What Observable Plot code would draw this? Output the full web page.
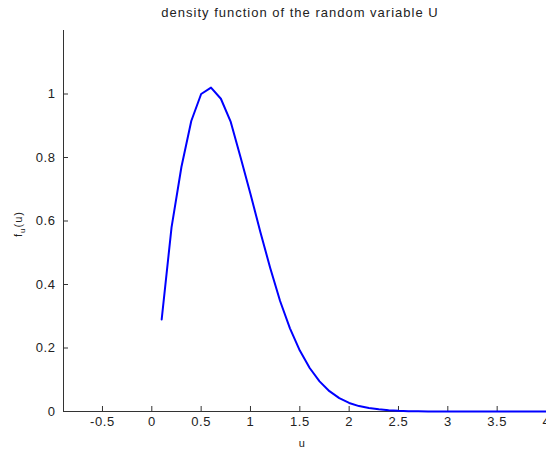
<!DOCTYPE html>
<html><head><meta charset="utf-8">
<script src="https://cdn.jsdelivr.net/npm/d3@7"></script>
<script src="https://cdn.jsdelivr.net/npm/@observablehq/plot@0.6"></script>
<style>body{margin:0;background:#fff} svg{display:block}</style>
</head><body><div id="chart"></div>
<script>
// ---- data ----
const u  = [0.1,0.2,0.3,0.4,0.5,0.6,0.7,0.8,0.9,1.0,
            1.1,1.2,1.3,1.4,1.5,1.6,1.7,1.8,1.9,2.0,
            2.1,2.2,2.3,2.4,2.5,2.6,2.7,2.8,2.9,3.0,
            3.1,3.2,3.3,3.4,3.5,3.6,3.7,3.8,3.9,4.0];
const fu = [0.29,0.58,0.77,0.915,1.0,1.02,0.985,0.912,0.80,0.685,
            0.565,0.452,0.348,0.262,0.192,0.137,0.095,0.064,0.042,0.027,
            0.017,0.011,0.007,0.004,0.002,0.001,0.0005,0,0,0,
            0,0,0,0,0,0,0,0,0,0];
const xTicks = [-0.5,0,0.5,1,1.5,2,2.5,3,3.5,4];
const yTicks = [0,0.2,0.4,0.6,0.8,1];
const title = "density function of the random variable U";
const xLabel = "u";
const yLabelMain = "f", yLabelSub = "u", yLabelTail = "(u)";

const data = u.map((x, i) => ({u: x, f: fu[i]}));

const W = 546, H = 450, mL = 63, mR = 0, mT = 30, mB = 39;
const xDom = [-0.895, 4], yDom = [0, 1.2];
const tickLen = 5;
const pxPerY = (H - mT - mB) / (yDom[1] - yDom[0]);
const pxPerX = (W - mL - mR) / (xDom[1] - xDom[0]);
const axisColor = "#333";
const font = "'Liberation Sans', Arial, Helvetica, sans-serif";

const plot = Plot.plot({
  width: W, height: H,
  marginLeft: mL, marginRight: mR, marginTop: mT, marginBottom: mB,
  style: {fontFamily: font, fontSize: "13px", color: "#222", background: "#fff", letterSpacing: "0.6px"},
  x: {domain: xDom},
  y: {domain: yDom},
  marks: [
    Plot.axisX({ticks: xTicks, tickSize: 0, tickPadding: 5, tickFormat: d => String(d), label: null}),
    Plot.axisY({ticks: yTicks, tickSize: 0, tickPadding: 8, tickFormat: d => String(d), label: null}),
    Plot.ruleX(xTicks, {x: d => d, y1: 0, y2: tickLen / pxPerY, stroke: axisColor}),
    Plot.ruleY(yTicks, {y: d => d, x1: xDom[0], x2: xDom[0] + tickLen / pxPerX, stroke: axisColor}),
    Plot.ruleY([0], {stroke: axisColor}),
    Plot.ruleX([xDom[0]], {stroke: axisColor}),
    Plot.line(data, {x: "u", y: "f", stroke: "#0000ff", strokeWidth: 2})
  ]
});

const svg = d3.select(plot);
svg.append("text")
  .attr("x", 300).attr("y", 17)
  .attr("text-anchor", "middle")
  .attr("font-family", font).attr("font-size", 13)
  .attr("letter-spacing", "1px")
  .attr("fill", "#222")
  .text(title);

svg.append("text")
  .attr("x", 302).attr("y", 447)
  .attr("text-anchor", "middle")
  .attr("font-family", font).attr("font-size", 11)
  .attr("fill", "#222")
  .text(xLabel);

const yl = svg.append("text")
  .attr("transform", "translate(22,224) rotate(-90)")
  .attr("text-anchor", "middle")
  .attr("font-family", font).attr("font-size", 11)
  .attr("letter-spacing", "1px")
  .attr("fill", "#222");
yl.append("tspan").text(yLabelMain);
yl.append("tspan").attr("font-size", 8).attr("dy", 3).text(yLabelSub);
yl.append("tspan").attr("dy", -3).text(yLabelTail);

document.getElementById("chart").appendChild(plot);
</script>
</body></html>
